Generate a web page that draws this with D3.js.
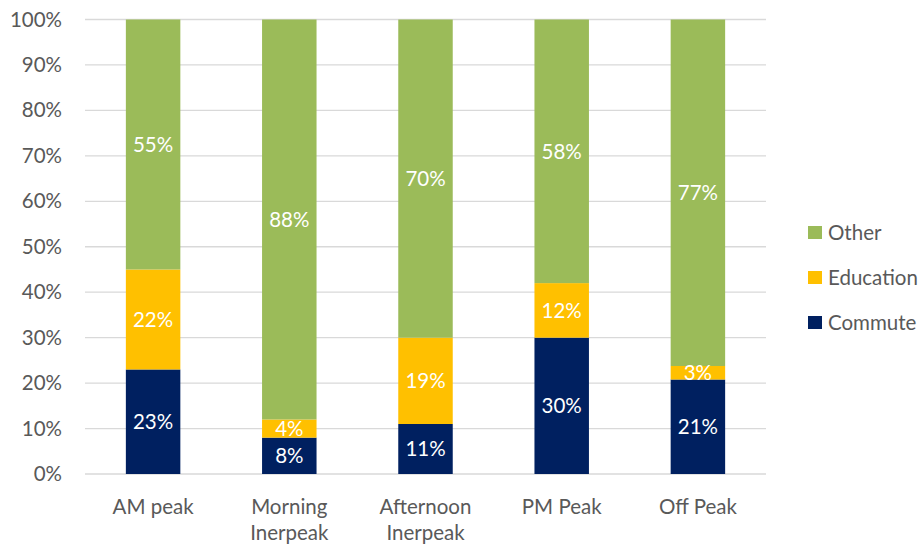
<!DOCTYPE html>
<html>
<head>
<meta charset="utf-8">
<script src="https://cdn.jsdelivr.net/npm/d3@7"></script>
<style>
  body { margin: 0; background: #fff; }
  svg { font-family: Lato, "Open Sans", sans-serif; }
</style>
</head>
<body>
<svg id="chart" width="924" height="544"></svg>
<script>
const periods = ['AM peak', 'Morning Inerpeak', 'Afternoon Inerpeak', 'PM Peak', 'Off Peak'];
const purposes = ['Commute', 'Education', 'Other'];
const commute = [23, 8, 11, 30, 21];
const education = [22, 4, 19, 12, 3];
const other = [55, 88, 70, 58, 77];
const yTicks = [0, 0.1, 0.2, 0.3, 0.4, 0.5, 0.6, 0.7, 0.8, 0.9, 1];
const colors = ['#002060', '#FFC000', '#9BBB59'];

const rows = periods.map((p, i) => ({
  period: p,
  Commute: commute[i],
  Education: education[i],
  Other: other[i],
}));

const svg = d3.select('#chart');
const margin = { top: 19.5, left: 85, right: 158, bottom: 70 };
const width = +svg.attr('width');
const height = +svg.attr('height');
const fontSize = '20.5px';

const xScale = d3
  .scaleBand()
  .domain(periods)
  .range([margin.left, width - margin.right])
  .paddingInner(0.6)
  .paddingOuter(0.3);

const yScale = d3
  .scaleLinear()
  .domain([0, 1])
  .range([height - margin.bottom, margin.top]);

const stack = d3.stack().keys(purposes).offset(d3.stackOffsetExpand);
const series = stack(rows);

// gridlines
svg
  .append('g')
  .selectAll('line')
  .data(yTicks)
  .join('line')
  .attr('x1', margin.left)
  .attr('x2', width - margin.right)
  .attr('y1', d => yScale(d))
  .attr('y2', d => yScale(d))
  .attr('stroke', '#d9d9d9')
  .attr('stroke-width', 1.3);

// y axis labels
const yAxis = d3
  .axisLeft(yScale)
  .tickValues(yTicks)
  .tickFormat(d3.format('.0%'))
  .tickSize(0)
  .tickPadding(23);

svg
  .append('g')
  .attr('transform', 'translate(' + margin.left + ',0)')
  .call(yAxis)
  .call(g => g.select('.domain').remove())
  .selectAll('text')
  .attr('font-size', fontSize)
  .attr('fill', '#595959')
  .attr('font-family', 'Lato, sans-serif');

// bars
const layer = svg
  .append('g')
  .selectAll('g')
  .data(series)
  .join('g')
  .attr('fill', (d, i) => colors[i]);

layer
  .selectAll('rect')
  .data(d => d)
  .join('rect')
  .attr('x', d => xScale(d.data.period))
  .attr('width', xScale.bandwidth())
  .attr('y', d => yScale(d[1]))
  .attr('height', d => yScale(d[0]) - yScale(d[1]));

// value labels
svg
  .append('g')
  .selectAll('g')
  .data(series)
  .join('g')
  .selectAll('text')
  .data(s => s.map(d => ({ d, key: s.key })))
  .join('text')
  .attr('x', o => xScale(o.d.data.period) + xScale.bandwidth() / 2)
  .attr('y', o => (yScale(o.d[0]) + yScale(o.d[1])) / 2)
  .attr('dy', '0.36em')
  .attr('text-anchor', 'middle')
  .attr('fill', '#fff')
  .attr('font-size', fontSize)
  .text(o => o.d.data[o.key] + '%');

// x axis labels
const xLabels = svg
  .append('g')
  .selectAll('text')
  .data(periods)
  .join('text')
  .attr('x', d => xScale(d) + xScale.bandwidth() / 2)
  .attr('y', 514)
  .attr('text-anchor', 'middle')
  .attr('fill', '#595959')
  .attr('font-size', fontSize);

xLabels
  .selectAll('tspan')
  .data(d => (d.indexOf(' ') > 0 && d.split(' ')[1].length > 4 ? d.split(' ') : [d]))
  .join('tspan')
  .attr('x', function () {
    return this.parentNode.getAttribute('x');
  })
  .attr('dy', (d, i) => (i === 0 ? 0 : 26))
  .text(d => d);

// legend
const legend = svg
  .append('g')
  .selectAll('g')
  .data(purposes.slice().reverse())
  .join('g')
  .attr('transform', (d, i) => 'translate(808,' + (233 + i * 45) + ')');

legend
  .append('rect')
  .attr('x', 0)
  .attr('y', -7)
  .attr('width', 14)
  .attr('height', 13)
  .attr('fill', d => colors[purposes.indexOf(d)]);

legend
  .append('text')
  .attr('x', 20)
  .attr('y', 0)
  .attr('dy', '0.36em')
  .attr('fill', '#595959')
  .attr('font-size', fontSize)
  .text(d => d);
</script>
</body>
</html>
